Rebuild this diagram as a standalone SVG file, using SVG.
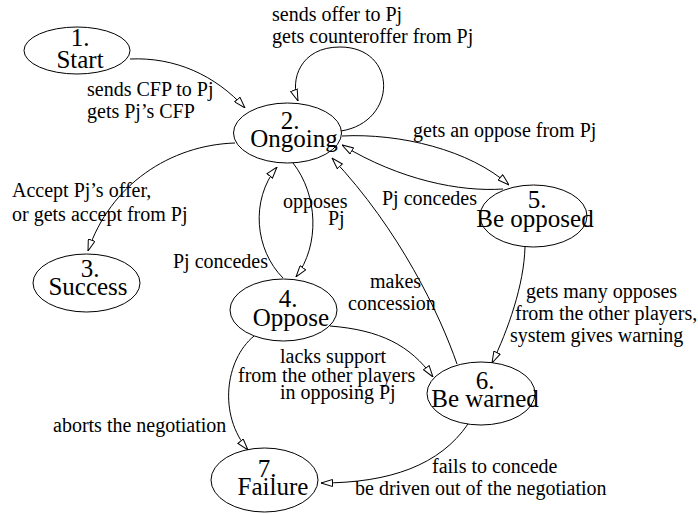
<svg xmlns="http://www.w3.org/2000/svg" width="698" height="514" viewBox="0 0 698 514">
<style>
.node ellipse{fill:none;stroke:#000;stroke-width:1}
.nt{font-family:"Liberation Serif","Times New Roman",serif;font-size:25px;text-anchor:middle;fill:#000}
.lbl{font-family:"Liberation Serif","Times New Roman",serif;font-size:20px;fill:#000}
.edge{fill:none;stroke:#000;stroke-width:1;marker-end:url(#arr)}
</style>
<defs>
<marker id="arr" viewBox="0 0 12 8" refX="12" refY="4" markerWidth="12" markerHeight="8" markerUnits="userSpaceOnUse" orient="auto">
<path d="M0.5,0.5 L12,4 L0.5,7.5 Z" fill="#fff" stroke="#000" stroke-width="1"/>
</marker>
</defs>
<rect width="698" height="514" fill="#fff"/>
<g id="connectors">
<path class="edge" d="M130,59 C175,57 215,75 245,108"/>
<path class="edge" d="M341,131 C398,122 398,47 340,47 C300,47 290,80 298,101"/>
<path class="edge" d="M342,136 C400,133 470,150 509,185"/>
<path class="edge" d="M503,189 C460,192 400,180 342,145"/>
<path class="edge" d="M235,143 C170,145 110,185 88,251"/>
<path class="edge" d="M293,163 C318,195 320,245 296,277"/>
<path class="edge" d="M283,278 C255,250 250,200 277,167"/>
<path class="edge" d="M457,364 C440,315 400,230 332,158"/>
<path class="edge" d="M525,247 C524,285 508,330 492,363"/>
<path class="edge" d="M330,326 C380,330 410,345 433,377"/>
<path class="edge" d="M254,336 C225,360 218,415 248,450"/>
<path class="edge" d="M468,424 C440,465 390,483 321,483"/>
<g id="edge-labels">
<text class="lbl" x="87" y="96">sends CFP to Pj</text>
<text class="lbl" x="87" y="118">gets Pj’s CFP</text>
<text class="lbl" x="272" y="21">sends offer to Pj</text>
<text class="lbl" x="272" y="43">gets counteroffer from Pj</text>
<text class="lbl" x="413" y="137">gets an oppose from Pj</text>
<text class="lbl" x="382" y="205">Pj concedes</text>
<text class="lbl" x="12" y="197">Accept Pj’s offer,</text>
<text class="lbl" x="12" y="221">or gets accept from Pj</text>
<text class="lbl" x="283" y="208">opposes</text>
<text class="lbl" x="328" y="225">Pj</text>
<text class="lbl" x="173" y="268">Pj concedes</text>
<text class="lbl" x="370" y="288">makes</text>
<text class="lbl" x="348" y="310">concession</text>
<text class="lbl" x="526" y="298">gets many opposes</text>
<text class="lbl" x="515" y="320">from the other players,</text>
<text class="lbl" x="510" y="342">system gives warning</text>
<text class="lbl" x="280" y="363">lacks support</text>
<text class="lbl" x="238" y="382">from the other players</text>
<text class="lbl" x="280" y="399">in opposing Pj</text>
<text class="lbl" x="53" y="432">aborts the negotiation</text>
<text class="lbl" x="432" y="473">fails to concede</text>
<text class="lbl" x="355" y="495">be driven out of the negotiation</text>
</g>
</g>
<g id="n1" class="node">
<ellipse cx="77" cy="50.5" rx="53" ry="23.5"/>
<text class="nt" x="80" y="46">1.</text>
<text class="nt" x="80" y="68">Start</text>
</g>
<g id="n2" class="node">
<ellipse cx="287.5" cy="133" rx="54" ry="30"/>
<text class="nt" x="290" y="129">2.</text>
<text class="nt" x="294" y="147">Ongoing</text>
</g>
<g id="n3" class="node">
<ellipse cx="86.5" cy="283" rx="53.5" ry="29"/>
<text class="nt" x="90" y="277">3.</text>
<text class="nt" x="88" y="295">Success</text>
</g>
<g id="n4" class="node">
<ellipse cx="283.5" cy="310" rx="53.5" ry="31"/>
<text class="nt" x="288" y="307">4.</text>
<text class="nt" x="291" y="326">Oppose</text>
</g>
<g id="n5" class="node">
<ellipse cx="533.5" cy="216" rx="53.5" ry="31"/>
<text class="nt" x="537" y="208">5.</text>
<text class="nt" x="535" y="227">Be opposed</text>
</g>
<g id="n6" class="node">
<ellipse cx="481" cy="393.5" rx="54" ry="31.5"/>
<text class="nt" x="485" y="389">6.</text>
<text class="nt" x="485" y="407">Be warned</text>
</g>
<g id="n7" class="node">
<ellipse cx="264.5" cy="480" rx="53.5" ry="32"/>
<text class="nt" x="267" y="477">7.</text>
<text class="nt" x="273" y="495">Failure</text>
</g>
</svg>
